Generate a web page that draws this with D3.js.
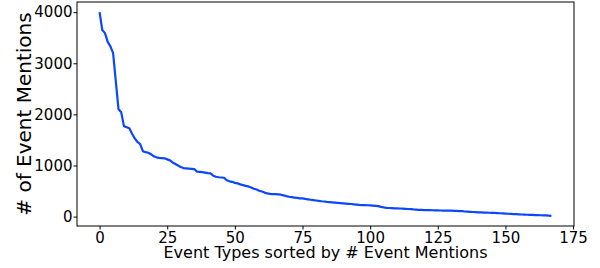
<!DOCTYPE html>
<html>
<head>
<meta charset="utf-8">
<script src="https://cdn.jsdelivr.net/npm/d3@7"></script>
<style>
body { margin: 0; background: #fff; }
text { font-family: "DejaVu Sans", sans-serif; fill: #000; }
</style>
</head>
<body>
<script>
// event mention counts, sorted descending
var mentions = [
    4000, 3650, 3590, 3420, 3330, 3200, 2640, 2100, 2040, 1770,
    1750, 1730, 1620, 1530, 1460, 1420, 1280, 1260, 1250, 1220,
    1180, 1160, 1150, 1145, 1140, 1120, 1100, 1060, 1030, 1000,
    970, 950, 945, 940, 935, 930, 880, 875, 870, 860,
    850, 845, 800, 780, 770, 765, 760, 710, 690, 680,
    660, 650, 630, 615, 600, 590, 570, 545, 530, 505,
    490, 470, 455, 445, 440, 438, 435, 428, 415, 400,
    388, 380, 372, 365, 358, 355, 345, 338, 330, 322,
    315, 308, 300, 295, 288, 283, 278, 274, 270, 265,
    260, 255, 250, 246, 240, 235, 228, 226, 224, 222,
    220, 215, 210, 205, 190, 180, 172, 168, 165, 162,
    160, 158, 155, 152, 148, 145, 140, 137, 133, 130,
    128, 126, 125, 124, 122, 120, 119, 118, 117, 116,
    115, 113, 111, 108, 105, 100, 96, 93, 90, 87,
    84, 81, 79, 77, 75, 73, 71, 68, 65, 62,
    58, 55, 52, 50, 47, 44, 41, 38, 36, 34,
    32, 30, 28, 26, 24, 22, 19, 15
];
var xTicks = [0, 25, 50, 75, 100, 125, 150, 175];
var yTicks = [0, 1000, 2000, 3000, 4000];
var xLabel = "Event Types sorted by # Event Mentions";
var yLabel = "# of Event Mentions";

var width = 600,
    height = 268,
    plotLeft = 77,
    plotRight = 574,
    plotTop = 2,
    plotBottom = 226;

var svg = d3.select("body")
            .append("svg")
            .attr("width", width)
            .attr("height", height);

// matplotlib style 5% margins
var n = mentions.length - 1;
var yMin = d3.min(mentions), yMax = d3.max(mentions);
var yPad = (yMax - yMin) * 0.05;

var xScale = d3.scaleLinear()
                .domain([-n * 0.05, n * 1.05])
                .range([plotLeft, plotRight]);

var yScale = d3.scaleLinear()
                .domain([yMin - yPad, yMax + yPad])
                .range([plotBottom, plotTop]);

var xAxis = d3.axisBottom(xScale).tickValues(xTicks).tickFormat(d3.format("d"))
                .tickSize(3.5).tickPadding(2.5);
var yAxis = d3.axisLeft(yScale).tickValues(yTicks).tickFormat(d3.format("d"))
                .tickSize(3.5).tickPadding(1);

var gx = svg.append("g")
    .attr("transform", "translate(0," + plotBottom + ")")
    .call(xAxis);
var gy = svg.append("g")
    .attr("transform", "translate(" + plotLeft + ",0)")
    .call(yAxis);

[gx, gy].forEach(function (g) {
    g.select(".domain").remove();
    g.selectAll(".tick line").attr("stroke", "#000").attr("stroke-width", 1);
    g.selectAll(".tick text")
        .style("font-family", "DejaVu Sans, sans-serif")
        .style("font-size", "15px")
        .attr("fill", "#000");
});

var line = d3.line()
    .x(function (d, i) { return xScale(i); })
    .y(function (d) { return yScale(d); });

svg.append("path")
    .datum(mentions)
    .attr("d", line)
    .attr("fill", "none")
    .attr("stroke", "#0a47ff")
    .attr("stroke-width", 2.2)
    .attr("stroke-linejoin", "round");

// frame
svg.append("rect")
    .attr("x", plotLeft)
    .attr("y", plotTop)
    .attr("width", plotRight - plotLeft)
    .attr("height", plotBottom - plotTop)
    .attr("fill", "none")
    .attr("stroke", "#000")
    .attr("stroke-width", 1);

svg.append("text")
    .attr("x", (plotLeft + plotRight) / 2)
    .attr("y", 258)
    .attr("text-anchor", "middle")
    .style("font-size", "16px")
    .text(xLabel);

svg.append("text")
    .attr("transform", "translate(31," + (plotTop + plotBottom) / 2 + ") rotate(-90)")
    .attr("text-anchor", "middle")
    .style("font-size", "20px")
    .text(yLabel);
</script>
</body>
</html>
